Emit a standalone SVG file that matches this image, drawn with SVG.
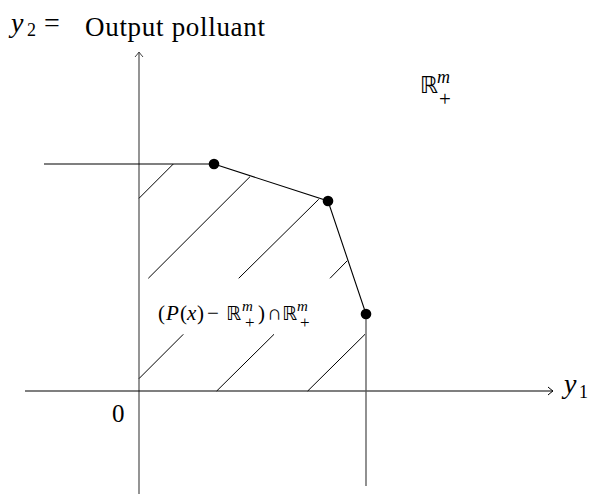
<svg xmlns="http://www.w3.org/2000/svg" width="590" height="500" viewBox="0 0 590 500">
<style>
.ax{stroke:#000;stroke-width:1.2;fill:none}
.gax{stroke:#7a7a7a;stroke-width:1.6;fill:none}
.edge{stroke:#000;stroke-width:1.1;fill:none}
.hatch{stroke:#000;stroke-width:1;fill:none}
.dot{fill:#000}
.t{font-family:"Liberation Serif","Times New Roman","DejaVu Serif",serif;fill:#000}
.i{font-style:italic}
.bb{font-family:"DejaVu Sans","Noto Sans",sans-serif;font-weight:normal}
</style>
<defs>
<marker id="arr" viewBox="-6 -5 8 10" markerWidth="8" markerHeight="10" refX="0" refY="0" orient="auto" markerUnits="userSpaceOnUse">
<path d="M-5,-4 Q-1.5,-1 0,0 Q-1.5,1 -5,4" fill="none" stroke="#000" stroke-width="1"/>
</marker>
<marker id="arrg" viewBox="-6 -5 8 10" markerWidth="8" markerHeight="10" refX="0" refY="0" orient="auto" markerUnits="userSpaceOnUse">
<path d="M-5,-4 Q-1.5,-1 0,0 Q-1.5,1 -5,4" fill="none" stroke="#444" stroke-width="1"/>
</marker>
</defs>
<g id="connectors">
<line id="y-axis" class="gax" x1="139" y1="494" x2="139" y2="52" marker-end="url(#arrg)"/>
<line id="x-axis" class="ax" x1="25" y1="391" x2="553" y2="391" marker-end="url(#arr)"/>
<line class="edge" x1="44" y1="164" x2="214" y2="164"/>
<polyline class="edge" points="214,164 328,201 366,314"/>
<line x1="366" y1="314" x2="366" y2="486" stroke="#555" stroke-width="1.3"/>
</g>
<g id="hatching">
<line class="hatch" x1="173.3" y1="164" x2="139" y2="198.3"/>
<line class="hatch" x1="250" y1="176.7" x2="148.3" y2="278.3"/>
<line class="hatch" x1="318.7" y1="199.3" x2="238.7" y2="278.3"/>
<line class="hatch" x1="347.3" y1="260.7" x2="330" y2="278.3"/>
<line class="hatch" x1="183.3" y1="334.3" x2="139" y2="378.6"/>
<line class="hatch" x1="274" y1="334.3" x2="216.7" y2="391"/>
<line class="hatch" x1="365" y1="334.3" x2="307.7" y2="391"/>
</g>
<g id="points">
<circle class="dot" cx="214" cy="164" r="5.3"/>
<circle class="dot" cx="328" cy="201" r="5.3"/>
<circle class="dot" cx="366" cy="314" r="5.3"/>
</g>
<g id="label-y2">
<text class="t i" x="11" y="32" font-size="28">y</text>
<text class="t" x="27" y="36" font-size="18">2</text>
<text class="t" x="44" y="32" font-size="28">=</text>
<text class="t" x="85" y="36" font-size="27" textLength="180" lengthAdjust="spacing">Output polluant</text>
</g>
<g id="label-y1">
<text class="t i" x="564" y="393" font-size="28">y</text>
<text class="t" x="579" y="398" font-size="18">1</text>
</g>
<g id="label-0">
<text class="t" x="112" y="422" font-size="25">0</text>
</g>
<g id="label-Rplus">
<text class="t bb" x="420" y="93" font-size="23">ℝ</text>
<text class="t i" x="437" y="83" font-size="18">m</text>
<text class="t" x="439" y="106" font-size="21">+</text>
</g>
<g id="label-set">
<text class="t" x="158" y="320" font-size="21">(</text>
<text class="t i" x="166" y="320" font-size="21">P</text>
<text class="t" x="180" y="320" font-size="21">(</text>
<text class="t i" x="187" y="320" font-size="21">x</text>
<text class="t" x="197" y="320" font-size="21">)</text>
<text class="t" x="207" y="320" font-size="21">−</text>
<text class="t bb" x="226" y="320" font-size="19">ℝ</text>
<text class="t i" x="242" y="311" font-size="15">m</text>
<text class="t" x="245" y="328" font-size="17">+</text>
<text class="t" x="258" y="320" font-size="21">)</text>
<text class="t" x="267" y="320" font-size="21">∩</text>
<text class="t bb" x="282" y="320" font-size="19">ℝ</text>
<text class="t i" x="297" y="311" font-size="15">m</text>
<text class="t" x="300" y="328" font-size="17">+</text>
</g>
</svg>
